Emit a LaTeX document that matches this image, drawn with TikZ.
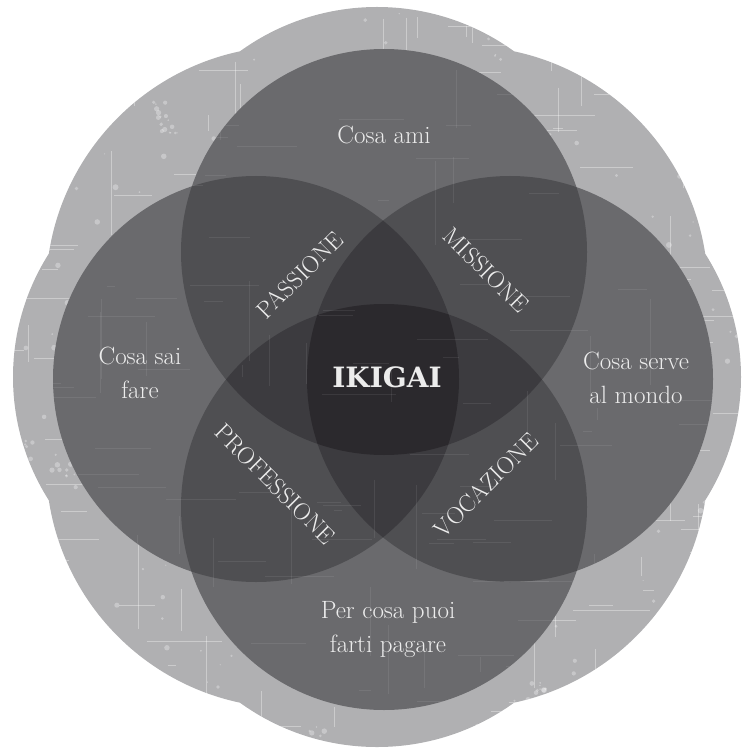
\documentclass[tikz,border=0pt]{standalone}
\usepackage{fontspec}
\newfontfamily\slab{DejaVu Serif}
\definecolor{lobe}{RGB}{176,176,178}
\definecolor{one}{RGB}{106,106,109}
\definecolor{two}{RGB}{79,79,82}
\definecolor{three}{RGB}{60,59,63}
\definecolor{four}{RGB}{43,41,45}
\definecolor{txt}{RGB}{236,236,236}
\tikzset{
  lbl/.style={text=txt,align=center,font=\fontsize{25}{34}\selectfont,inner sep=0pt},
  caps/.style={text=txt,font=\fontsize{24}{28}\selectfont,inner sep=0pt},
  scratch/.style={white,line width=0.7pt,opacity=0.35},
  blot/.style={white,opacity=0.3}
}
\begin{document}
\begin{tikzpicture}[x=1pt,y=-1pt]
\useasboundingbox (0,0) rectangle (746,751);
% scalloped background
\def\outline{(377,241) circle (234pt) (511,377) circle (230pt) (377,513) circle (234pt) (243,377) circle (230pt)
  (463,291) circle (245pt) (463,463) circle (245pt) (291,463) circle (245pt) (291,291) circle (245pt)}
\fill[lobe] \outline;
\begin{scope}
  \clip \outline;
  \pgfmathsetseed{11}
  \foreach \i in {1,...,140}{
    \pgfmathsetmacro\xa{rnd*746}\pgfmathsetmacro\ya{rnd*751}\pgfmathsetmacro\la{8+rnd*70}
    \draw[scratch] (\xa,\ya) -- ++(\la,0);
  }
  \foreach \i in {1,...,80}{
    \pgfmathsetmacro\xa{rnd*746}\pgfmathsetmacro\ya{rnd*751}\pgfmathsetmacro\la{8+rnd*80}
    \draw[scratch] (\xa,\ya) -- ++(0,\la);
  }
  \foreach \i in {1,...,320}{
    \pgfmathsetmacro\xa{rnd*746}\pgfmathsetmacro\ya{rnd*751}\pgfmathsetmacro\ra{0.6+rnd*2.4}
    \fill[blot] (\xa,\ya) circle (\ra pt);
  }
  \foreach \i in {1,...,40}{
    \pgfmathsetmacro\xa{rnd*746}\pgfmathsetmacro\ya{rnd*751}
    \foreach \j in {1,...,8}{
      \pgfmathsetmacro\dx{(rnd-0.5)*22}\pgfmathsetmacro\dy{(rnd-0.5)*22}\pgfmathsetmacro\ra{0.8+rnd*2}
      \fill[white,opacity=0.3] (\xa+\dx,\ya+\dy) circle (\ra pt);
    }
  }
\end{scope}
% main circles
\coordinate (T) at (384,252);
\coordinate (L) at (256,379);
\coordinate (R) at (510,379);
\coordinate (B) at (384,507);
\def\r{203pt}
\fill[one] (T) circle (\r) (L) circle (\r) (R) circle (\r) (B) circle (\r);
% pairs
\begin{scope}\clip (T) circle (\r); \fill[two] (L) circle (\r) (R) circle (\r) (B) circle (\r);\end{scope}
\begin{scope}\clip (L) circle (\r); \fill[two] (R) circle (\r) (B) circle (\r);\end{scope}
\begin{scope}\clip (R) circle (\r); \fill[two] (B) circle (\r);\end{scope}
% triples
\begin{scope}\clip (T) circle (\r); \clip (L) circle (\r); \fill[three] (R) circle (\r) (B) circle (\r);\end{scope}
\begin{scope}\clip (T) circle (\r); \clip (R) circle (\r); \fill[three] (B) circle (\r);\end{scope}
\begin{scope}\clip (L) circle (\r); \clip (R) circle (\r); \fill[three] (B) circle (\r);\end{scope}
% quad
\begin{scope}\clip (T) circle (\r); \clip (L) circle (\r); \clip (R) circle (\r); \fill[four] (B) circle (\r);\end{scope}
% faint texture over circles
\begin{scope}
  \clip (T) circle (\r) (L) circle (\r) (R) circle (\r) (B) circle (\r);
  \pgfmathsetseed{5}
  \foreach \i in {1,...,90}{
    \pgfmathsetmacro\xa{rnd*746}\pgfmathsetmacro\ya{rnd*751}\pgfmathsetmacro\la{8+rnd*70}
    \draw[white,line width=0.6pt,opacity=0.08] (\xa,\ya) -- ++(\la,0);
  }
  \foreach \i in {1,...,50}{
    \pgfmathsetmacro\xa{rnd*746}\pgfmathsetmacro\ya{rnd*751}\pgfmathsetmacro\la{8+rnd*80}
    \draw[white,line width=0.6pt,opacity=0.08] (\xa,\ya) -- ++(0,\la);
  }
\end{scope}
% texts
\node[lbl] (ami) at (384,135) {Cosa ami};
\node[lbl] (sai) at (140,373) {Cosa sai\\fare};
\node[lbl] (serve) at (636,378) {Cosa serve\\al mondo};
\node[lbl] (pagare) at (388,630) {Per cosa puoi\\farti pagare};
\node[text=txt,inner sep=0pt,font=\slab\bfseries\fontsize{28}{32}\selectfont] (ikigai) at (387,377) {IKIGAI};
\node[caps,rotate=45] (passione) at (300,275) {PASSIONE};
\node[caps,rotate=-45] (missione) at (486,270) {MISSIONE};
\node[caps,rotate=-45] (professione) at (275,484) {PROFESSIONE};
\node[caps,rotate=45] (vocazione) at (486,485) {VOCAZIONE};
\end{tikzpicture}
\end{document}
